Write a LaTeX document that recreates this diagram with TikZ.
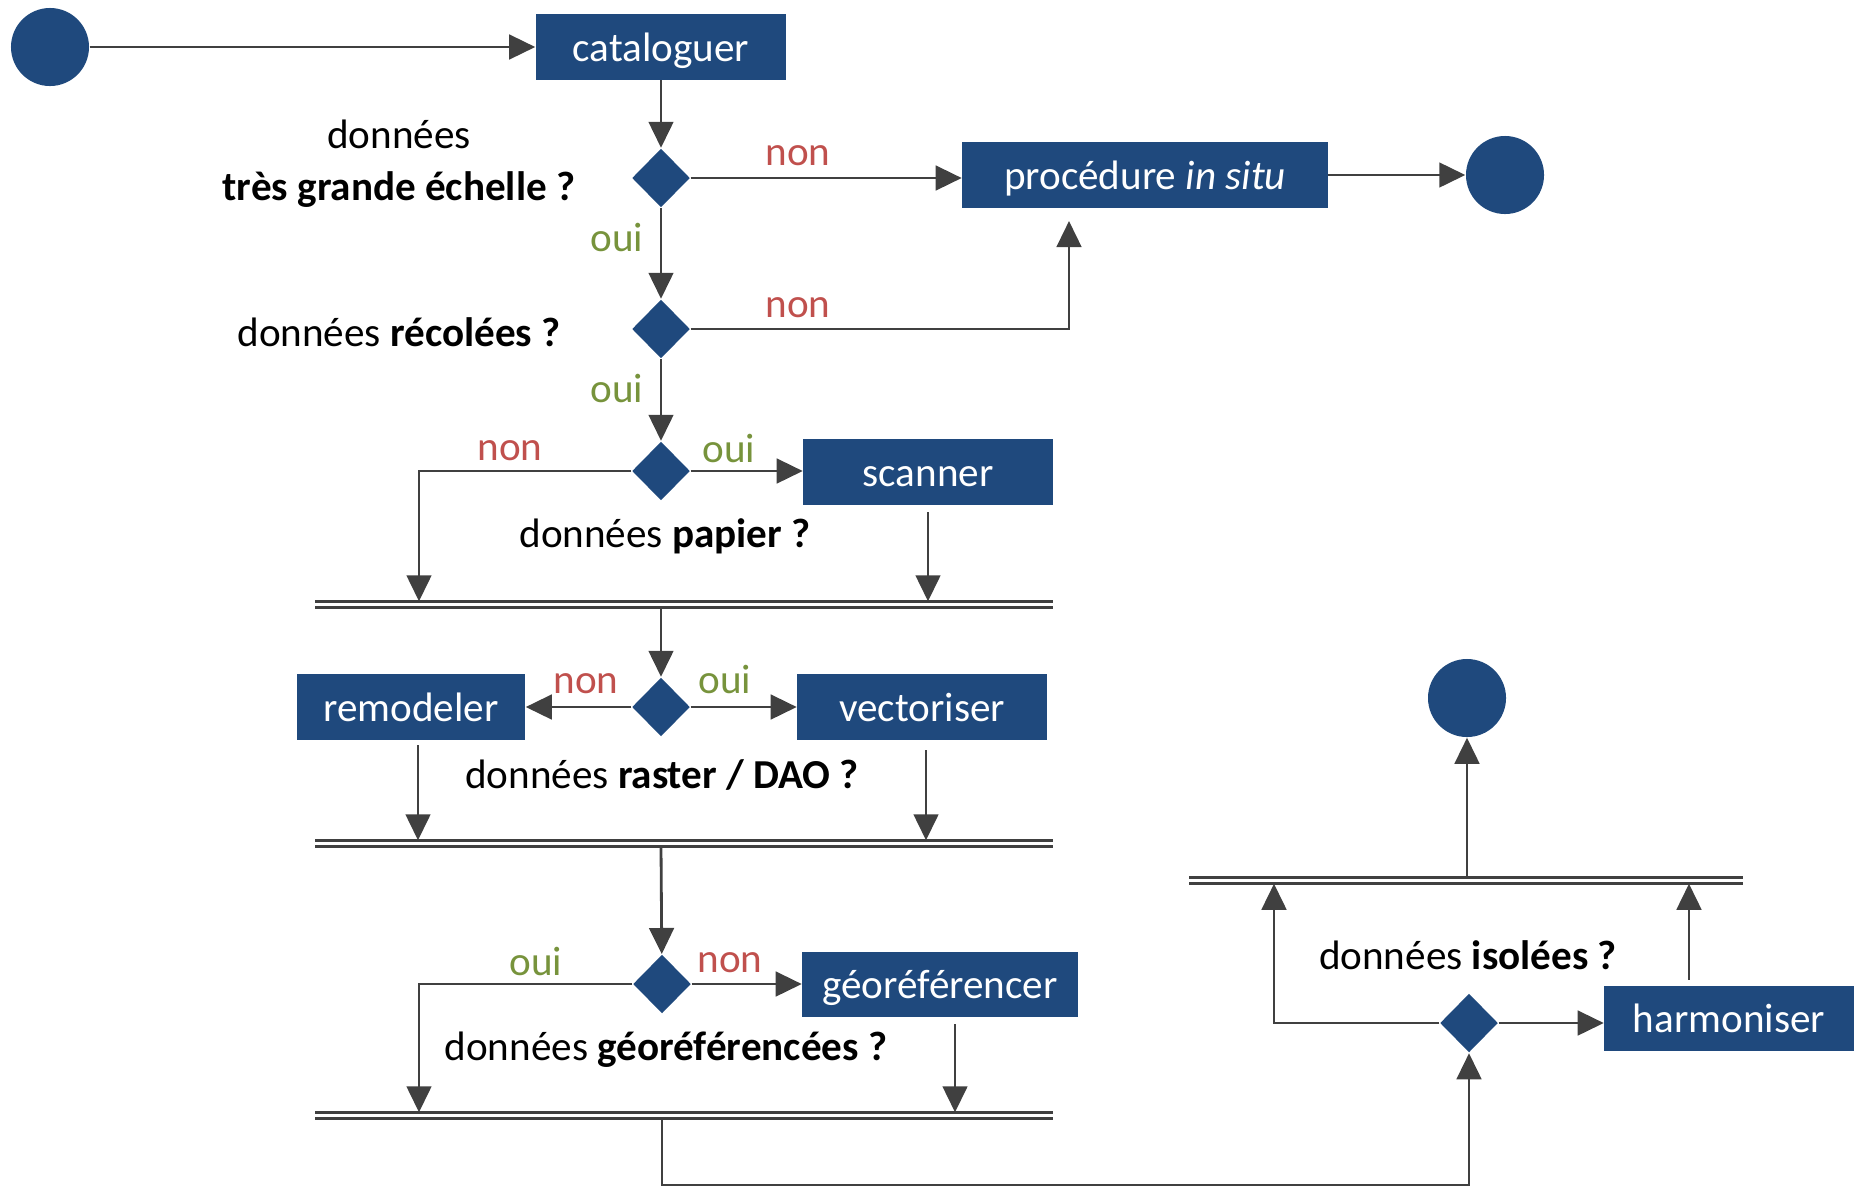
\documentclass[tikz,border=0pt]{standalone}
\usepackage{fontspec}
\setmainfont{Carlito}
\usepackage{tikz}
\usetikzlibrary{arrows.meta,shapes.geometric}
\definecolor{actblue}{HTML}{1F497D}
\definecolor{nonred}{HTML}{C0504D}
\definecolor{ouigreen}{HTML}{77933C}
\definecolor{wire}{HTML}{404040}
\tikzset{
  txt/.style={font=\fontsize{11.7}{14.7}\selectfont},
  act/.style={txt,fill=actblue,text=white,minimum height=0.65cm,inner sep=0pt,
    text height=8.2pt,text depth=0pt},
  dec/.style={diamond,fill=actblue,minimum width=0.58cm,minimum height=0.59cm,inner sep=0pt},
  term/.style={circle,fill=actblue,minimum size=0.78cm,inner sep=0pt},
  flow/.style={draw=wire,line width=0.8pt,-{Triangle[length=7.4pt,width=7pt]}},
  wireline/.style={draw=wire,line width=0.8pt},
  barnode/.style={rectangle,minimum height=0.05cm,inner sep=0pt},
  quest/.style={txt,align=center},
  nonlab/.style={txt,text=nonred},
  ouilab/.style={txt,text=ouigreen},
}

\begin{document}
\begin{tikzpicture}[x=0.01cm,y=-0.01cm]
\useasboundingbox (0,0) rectangle (1861,1187);
% activities
\node[term] (start) at (50,47) {};
\node[act,minimum width=2.50cm] (catal) at (661,47) {cataloguer};
\node[act,minimum width=3.65cm] (proc) at (1145,175) {procédure \textit{in situ}};
\node[term] (end1) at (1505,175) {};
\node[act,minimum width=2.49cm] (scan) at (928,472) {scanner};
\node[act,minimum width=2.28cm] (remod) at (411,707) {remodeler};
\node[act,minimum width=2.49cm] (vect) at (922,707) {vectoriser};
\node[act,minimum width=2.75cm] (geo) at (940,984) {géoréférencer};
\node[act,minimum width=2.49cm] (harm) at (1729,1018) {harmoniser};
\node[term] (end2) at (1467,698) {};
% decisions
\node[dec] (dia1) at (661,178) {};
\node[dec] (dia2) at (661,329) {};
\node[dec] (dia3) at (661,471) {};
\node[dec] (dia4) at (661,707) {};
\node[dec] (dia5) at (662,984) {};
\node[dec] (dia6) at (1469,1023) {};
% sync bars
\node[barnode,minimum width=7.36cm] (bar1) at (684,604.5) {};
\node[barnode,minimum width=7.36cm] (bar2) at (684,843.5) {};
\node[barnode,minimum width=7.36cm] (bar3) at (684,1115.5) {};
\node[barnode,minimum width=5.52cm] (bar4) at (1466,880.5) {};
\foreach \b in {bar1,bar2,bar3,bar4}{
  \draw[wireline] (\b.north west) -- (\b.north east);
  \draw[wireline] (\b.south west) -- (\b.south east);
}
\coordinate (procin) at (1069,221);
\coordinate (lx) at (419,0);
\coordinate (isol) at (1274,0);
\coordinate (bottom) at (0,1185);
% questions
\node[quest] (q1) at (399,164) {données\\\textbf{très grande échelle ?}};
\node[quest] (q2) at (399,332) {données \textbf{récolées ?}};
\node[quest] (q3) at (665,536) {données \textbf{papier ?}};
\node[quest] (q4) at (662,775) {données \textbf{raster / DAO ?}};
\node[quest] (q5) at (666,1050) {données \textbf{géoréférencées ?}};
\node[quest] (q6) at (1468,955) {données \textbf{isolées ?}};
% branch labels
\node[nonlab] (n1) at (798,156) {non};
\node[ouilab] (o1) at (617,237) {oui};
\node[nonlab] (n2) at (798,308) {non};
\node[ouilab] (o2) at (617,388) {oui};
\node[nonlab] (n3) at (510,451) {non};
\node[ouilab] (o3) at (729,448) {oui};
\node[nonlab] (n4) at (586,684) {non};
\node[ouilab] (o4) at (725,679) {oui};
\node[ouilab] (o5) at (536,961) {oui};
\node[nonlab] (n5) at (730,963) {non};
% flows
\draw[flow] (start) -- (catal);
\draw[flow] (catal) -- (dia1);
\draw[flow] (dia1.east) -- (dia1.east -| proc.west);
\draw[flow] (proc.east) -- (end1);
\draw[flow] (dia1) -- (dia2);
\draw[flow] (dia2.east) -| (procin);
\draw[flow] (dia2) -- (dia3);
\draw[flow] (dia3.east) -- (dia3.east -| scan.west);
\draw[flow] (dia3.west) -| (lx |- bar1.north);
\draw[flow] ([yshift=-0.07cm]scan.south) -- (scan.south |- bar1.north);
\draw[flow] (dia3 |- bar1.south) -- (dia4);
\draw[flow] (dia4) -- (remod);
\draw[flow] (dia4) -- (vect);
\draw[flow] ([xshift=0.07cm,yshift=-0.05cm]remod.south) -- ([xshift=0.07cm]remod.south |- bar2.north);
\draw[flow] ([xshift=0.04cm,yshift=-0.1cm]vect.south) -- ([xshift=0.04cm]vect.south |- bar2.north);
\draw[flow] (dia4 |- bar2.south) -- (dia5);
\draw[flow] (dia5.west) -| (lx |- bar3.north);
\draw[flow] (dia5.east) -- (dia5.east -| geo.west);
\draw[flow] ([xshift=0.15cm,yshift=-0.07cm]geo.south) -- ([xshift=0.15cm]geo.south |- bar3.north);
\draw[flow] (dia5 |- bar3.south) -- (dia5 |- bottom) -| (dia6.south);
\draw[flow] (dia6.west) -| (isol |- bar4.south);
\draw[flow] (dia6.east) -- (dia6.east -| harm.west);
\draw[flow] ([xshift=-0.4cm,yshift=0.05cm]harm.north) -- ([xshift=-0.4cm]harm.north |- bar4.south);
\draw[flow] (end2 |- bar4.north) -- (end2);
\end{tikzpicture}
\end{document}
